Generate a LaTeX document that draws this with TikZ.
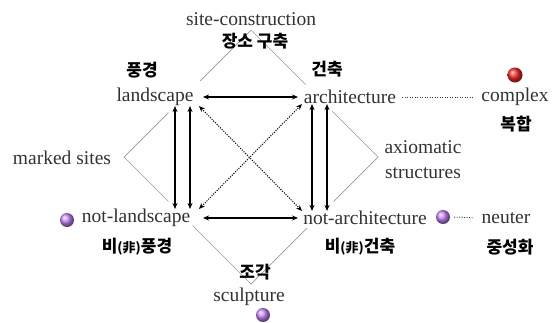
\documentclass[tikz,border=0pt]{standalone}
\usepackage{fontspec}
\setmainfont{Liberation Serif}
\newfontfamily\kr{Noto Sans CJK KR}
\usetikzlibrary{arrows.meta,calc,shadings}
\definecolor{pur}{RGB}{200,135,255}
\definecolor{rballc}{RGB}{255,40,40}
\begin{document}
\begin{tikzpicture}[x=1pt,y=-1pt,
  en/.style={font=\fontsize{19.5}{25}\selectfont, text=black!80, inner sep=0pt},
  ko/.style={font=\kr\bfseries\fontsize{17}{19}\selectfont, inner sep=0pt},
  dia/.style={draw=black!40, line width=0.7pt},
  rel/.style={{Stealth[length=6pt,width=5pt]}-{Stealth[length=6pt,width=5pt]}, line width=1.1pt},
  drel/.style={rel, dash pattern=on 1.1pt off 1.3pt, line width=1pt},
  dotline/.style={dash pattern=on 0.9pt off 1.6pt, line width=0.8pt, black!80},
  pball/.style={circle, inner sep=0pt, minimum size=14pt, ball color=pur},
  rball/.style={circle, inner sep=0pt, minimum size=15pt, ball color=rballc}
]
\fill[white] (0,0) rectangle (552,322);
\useasboundingbox (0,0) rectangle (552,322);

% diamond
\coordinate (T) at (251,30);
\coordinate (L) at (124,157);
\coordinate (B) at (251,284);
\coordinate (R) at (378,157);
\draw[dia] (T) -- ($(T)!0.40!(L)$) ($(T)!0.65!(L)$) -- (L) -- ($(L)!0.35!(B)$)
  ($(L)!0.54!(B)$) -- (B) -- ($(B)!0.44!(R)$) ($(B)!0.65!(R)$) -- (R)
  -- ($(R)!0.36!(T)$) ($(R)!0.57!(T)$) -- (T);

% texts
\node[en] (site) at (251,19) {site-construction};
\node[ko] (siteK) at (255,41) {장소 구축};
\node[ko] (landK) at (142,70) {풍경};
\node[ko] (archK) at (327,69) {건축};
\node[en] (land) at (155,97) {landscape};
\node[en] (arch) at (350,97) {architecture};
\node[en] (cplx) at (515,97) {complex};
\node[rball] (rdot) at (515,75) {};
\node[ko] (cplxK) at (516,124) {복합};
\node[en] (marked) at (62,158) {marked sites};
\node[en, align=center] (axio) at (423,160) {axiomatic\\structures};
\node[en] (nland) at (136,218) {not-landscape};
\node[pball] (ldot) at (67,220) {};
\node[ko] (nlandK) at (137,247) {비{\fontsize{13}{14}\selectfont(非)}풍경};
\node[en] (narch) at (365,218) {not-architecture};
\node[pball] (rpdot) at (443,217) {};
\node[en] (neut) at (506,218) {neuter};
\node[ko] (narchK) at (360,247) {비{\fontsize{13}{14}\selectfont(非)}건축};
\node[ko] (neutK) at (510,247) {중성화};
\node[ko] (sculK) at (255,272) {조각};
\node[en] (scul) at (249,297) {sculpture};
\node[pball] (bdot) at (263,315) {};

% arrow guide coordinates
\coordinate (xa) at (175,0);
\coordinate (xb) at (190,0);
\coordinate (xc) at (312,0);
\coordinate (xd) at (327,0);
\coordinate (hl) at (203,0);
\coordinate (hr) at (298,0);
\coordinate (dl) at (199,0);
\coordinate (dr) at (302,0);

\draw[rel] (hl |- land.east) -- (hr |- arch.west);
\draw[rel] (hl |- nland.east) -- (hr |- narch.west);
\draw[rel] (xa |- land.south) -- (xa |- nland.north);
\draw[rel] (xb |- land.south) -- (xb |- nland.north);
\draw[rel] (xc |- arch.south) -- (xc |- narch.north);
\draw[rel] (xd |- arch.south) -- (xd |- narch.north);
\draw[drel] (dl |- land.south) -- (dr |- narch.north);
\draw[drel] (dl |- nland.north) -- (dr |- arch.south);

\draw[dotline, shorten <=6pt, shorten >=7pt] (arch.east) -- (cplx.west);
\draw[dotline, shorten <=4pt, shorten >=8pt] (rpdot.east) -- (neut.west);
\end{tikzpicture}
\end{document}
